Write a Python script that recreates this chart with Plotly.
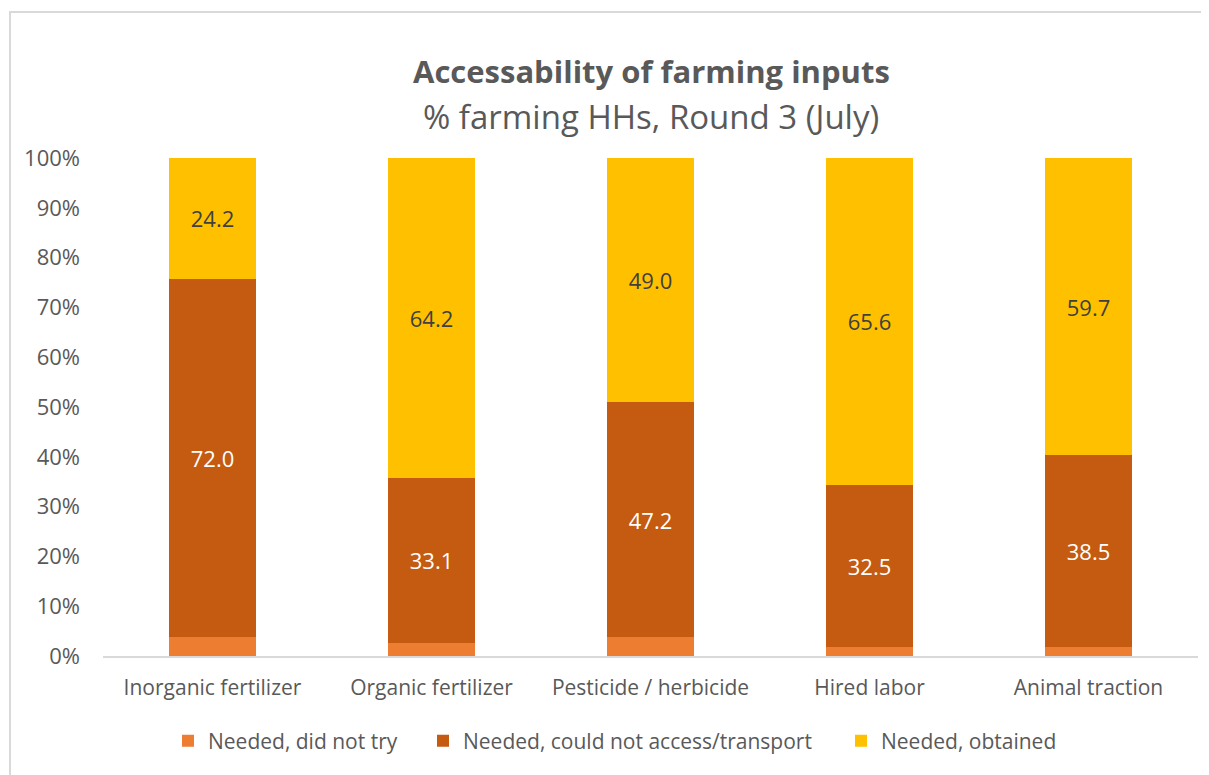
import plotly.graph_objects as go

categories = ["Inorganic fertilizer", "Organic fertilizer", "Pesticide / herbicide",
              "Hired labor", "Animal traction"]
did_not_try = [3.8, 2.7, 3.8, 1.9, 1.8]
could_not_access = [72.0, 33.1, 47.2, 32.5, 38.5]
obtained = [24.2, 64.2, 49.0, 65.6, 59.7]

FONT = "Open Sans"
GREY = "#595959"

# page is drawn with an 8px body margin, so work in screen px and subtract it
OFF = 8
W, H = 1209 - OFF, 775 - OFF
# plot area on screen: x 103..1198, y 158..656
L, R, T, B = 103 - OFF, 1209 - 1198, 158 - OFF, 775 - 656
PW, PH = W - L - R, H - T - B


def py(y_scr):
    return (H - B - (y_scr - OFF)) / PH


def px(x_scr):
    return (x_scr - OFF - L) / PW


def legend_at(x_scr):
    # one legend box per series so the spacing can follow the original
    return dict(orientation="h", x=px(x_scr), xanchor="left", y=py(741),
                yanchor="middle", font=dict(size=21, color=GREY), itemwidth=30,
                bgcolor="rgba(0,0,0,0)")


fig = go.Figure()

fig.add_trace(go.Bar(
    x=categories, y=did_not_try, name="Needed, did not try",
    marker=dict(color="#ED7D31", line=dict(width=0)),
    legend="legend"
))

fig.add_trace(go.Bar(
    x=categories, y=could_not_access, name="Needed, could not access/transport",
    marker=dict(color="#C55A11", line=dict(width=0)),
    text=[f"{v:.1f}" for v in could_not_access], textposition="inside",
    insidetextanchor="middle",
    textfont=dict(family=FONT, size=22, color="white"),
    legend="legend2"
))

fig.add_trace(go.Bar(
    x=categories, y=obtained, name="Needed, obtained",
    marker=dict(color="#FFC000", line=dict(width=0)),
    text=[f"{v:.1f}" for v in obtained], textposition="inside",
    insidetextanchor="middle",
    textfont=dict(family=FONT, size=22, color="#404040"),
    legend="legend3"
))

fig.update_layout(
    barmode="stack",
    barnorm="percent",
    bargap=0.6,
    width=W, height=H,
    margin=dict(l=L, r=R, t=T, b=B),
    plot_bgcolor="white",
    paper_bgcolor="white",
    font=dict(family=FONT, color=GREY, size=21),
    uniformtext=dict(minsize=8, mode="show"),
    showlegend=True,
    legend=legend_at(168),
    legend2=legend_at(423),
    legend3=legend_at(841),
    xaxis=dict(
        showgrid=False, showline=True, linecolor="#D9D9D9", linewidth=2,
        ticks="", tickfont=dict(size=21, color=GREY), ticklabelstandoff=12
    ),
    yaxis=dict(
        range=[0, 100], dtick=10, ticksuffix="%", showgrid=False,
        zeroline=False, showline=False, ticks="",
        tickfont=dict(size=22, color=GREY), ticklabelstandoff=22
    ),
    annotations=[
        dict(text="<b>Accessability of farming inputs</b>", xref="paper", yref="paper",
             x=px(651), y=py(71), xanchor="center", yanchor="middle", showarrow=False,
             font=dict(size=31, color=GREY, family=FONT)),
        dict(text="% farming HHs, Round 3 (July)", xref="paper", yref="paper",
             x=px(651), y=py(116), xanchor="center", yanchor="middle", showarrow=False,
             font=dict(size=33, color=GREY, family=FONT)),
    ],
    shapes=[
        dict(type="rect", xref="paper", yref="paper",
             x0=px(10), x1=px(1240), y0=py(800), y1=py(12),
             line=dict(color="#D9D9D9", width=2), fillcolor="rgba(0,0,0,0)",
             layer="below"),
    ],
)

fig.write_html("out.html")
